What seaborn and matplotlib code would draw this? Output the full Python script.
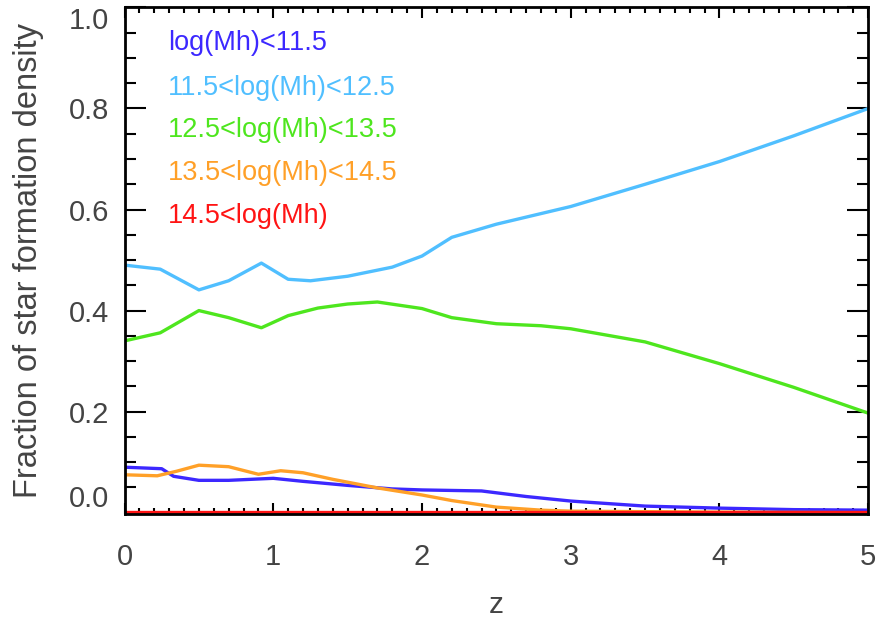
import numpy as np
import pandas as pd
import matplotlib
matplotlib.use("Agg")
import matplotlib.pyplot as plt
import seaborn as sns
from matplotlib.ticker import MultipleLocator

# ---- data ----
labels = ["log(Mh)<11.5", "11.5<log(Mh)<12.5", "12.5<log(Mh)<13.5",
          "13.5<log(Mh)<14.5", "14.5<log(Mh)"]
colors = ["#3c28ff", "#50bfff", "#4ee61e", "#ffa028", "#ff1414"]

z_lb = [0.0, 0.24, 0.5, 0.7, 0.92, 1.1, 1.25, 1.5, 1.8, 2.0, 2.2, 2.5, 3.0, 3.5, 4.0, 4.5, 5.0]
f_lb = [0.490, 0.482, 0.441, 0.459, 0.494, 0.462, 0.459, 0.468, 0.486, 0.508,
        0.545, 0.571, 0.606, 0.650, 0.695, 0.746, 0.800]

z_gr = [0.0, 0.24, 0.5, 0.7, 0.92, 1.1, 1.3, 1.5, 1.7, 2.0, 2.2, 2.5, 2.8, 3.0, 3.5, 4.0, 4.5, 5.0]
f_gr = [0.340, 0.356, 0.400, 0.386, 0.366, 0.390, 0.405, 0.413, 0.417, 0.404,
        0.386, 0.374, 0.370, 0.364, 0.338, 0.295, 0.248, 0.197]

z_db = [0.0, 0.25, 0.33, 0.5, 0.7, 1.0, 1.2, 1.5, 1.8, 2.0, 2.4, 2.7, 3.0, 3.5, 4.0, 4.5, 5.0]
f_db = [0.090, 0.087, 0.072, 0.064, 0.064, 0.068, 0.062, 0.054, 0.047, 0.045,
        0.043, 0.032, 0.023, 0.013, 0.009, 0.006, 0.005]

z_or = [0.0, 0.22, 0.35, 0.5, 0.7, 0.9, 1.05, 1.2, 1.4, 1.7, 2.0, 2.2, 2.5, 2.8, 3.0, 4.0, 5.0]
f_or = [0.075, 0.073, 0.082, 0.094, 0.091, 0.076, 0.083, 0.079, 0.066, 0.049,
        0.035, 0.024, 0.011, 0.005, 0.003, 0.001, 0.000]

z_rd = [0.0, 1.0, 2.0, 3.0, 4.0, 5.0]
f_rd = [0.001, 0.001, 0.001, 0.001, 0.001, 0.001]

frames = []
for lab, zz, ff in zip(labels, [z_db, z_lb, z_gr, z_or, z_rd],
                       [f_db, f_lb, f_gr, f_or, f_rd]):
    frames.append(pd.DataFrame({"z": zz, "frac": ff, "bin": lab}))
df = pd.concat(frames, ignore_index=True)

# ---- style ----
sns.set_style("ticks")
plt.rcParams["font.family"] = ["Liberation Sans", "DejaVu Sans"]
txt = "#444444"

fig = plt.figure(figsize=(8.77, 6.21), dpi=100)
ax = fig.add_axes([0.142, 0.172, 0.848, 0.816])

sns.lineplot(data=df, x="z", y="frac", hue="bin", hue_order=labels,
             palette=colors, linewidth=2.4, legend=False, ax=ax,
             estimator=None, sort=False)

ax.set_xlim(0, 5)
ax.set_ylim(-0.003, 1.0)
ax.xaxis.set_major_locator(MultipleLocator(1))
ax.xaxis.set_minor_locator(MultipleLocator(0.1))
ax.yaxis.set_major_locator(MultipleLocator(0.2))
ax.yaxis.set_minor_locator(MultipleLocator(0.05))
ax.xaxis.set_major_formatter(plt.FuncFormatter(lambda v, p: f"{v:.0f}"))
ax.yaxis.set_major_formatter(plt.FuncFormatter(lambda v, p: f"{v:.1f}"))

ax.tick_params(axis="both", which="both", direction="in", top=True, right=True,
               color="black", labelcolor=txt, labelsize=21)
ax.tick_params(axis="x", which="major", length=8, width=1.5, pad=21)
ax.tick_params(axis="x", which="minor", length=4, width=1.5)
ax.tick_params(axis="y", which="major", length=15, width=1.5, pad=11)
ax.tick_params(axis="y", which="minor", length=8, width=1.5)
for s in ax.spines.values():
    s.set_visible(True)
    s.set_linewidth(2.0)
    s.set_color("black")

ax.set_xlabel("z", fontsize=21.5, color=txt, labelpad=14)
ax.set_ylabel("Fraction of star formation density", fontsize=23.5, color=txt, labelpad=18)

# IDL-style: end labels pulled inside the axis range
fig.canvas.draw()
for t in ax.get_yticklabels():
    if t.get_text() == "1.0":
        t.set_va("top")
    elif t.get_text() == "0.0":
        t.set_va("bottom")

ys = [0.929, 0.842, 0.759, 0.674, 0.589]
for lab, col, yy in zip(labels, colors, ys):
    ax.text(0.058, yy, lab, transform=ax.transAxes, color=col, fontsize=19.5,
            va="center", ha="left")

fig.savefig("out.png", dpi=100)
